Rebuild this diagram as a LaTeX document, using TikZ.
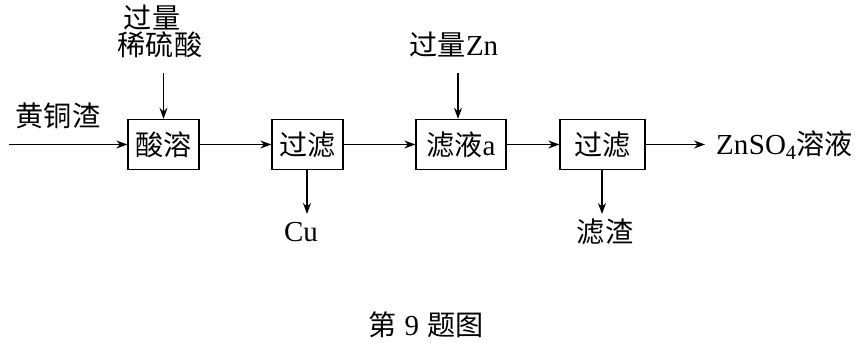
\documentclass[tikz,border=0pt]{standalone}
\usepackage{fontspec}
\setmainfont{Liberation Serif}
\newfontfamily\cjk{Noto Sans CJK SC}[Scale=0.97]
\usetikzlibrary{arrows.meta}
\begin{document}
\begin{tikzpicture}[x=1pt,y=-1pt,
  every node/.style={font=\fontsize{29}{31}\selectfont},
  procbox/.style={draw,line width=1.3pt,minimum height=50pt,inner sep=0pt},
  lbl/.style={inner sep=0pt},
  flow/.style={line width=1.3pt,-{Stealth[length=11pt,width=8pt]}}]
\useasboundingbox (0,0) rectangle (855,343);
\node[procbox,minimum width=71pt] (b1) at (163.5,144.5) {\cjk 酸溶};
\node[procbox,minimum width=71pt] (b2) at (307.5,144.5) {\cjk 过滤};
\node[procbox,minimum width=90pt] (b3) at (461,144.5) {\cjk 滤液\rmfamily a};
\node[procbox,minimum width=85pt] (b4) at (602.5,144.5) {\cjk 过滤};
\coordinate (in) at (9,144.5);
\node[lbl] (l1) at (58,116) {\cjk 黄铜渣};
\node[lbl] (l2a) at (152,18) {\cjk 过量};
\node[lbl] (l2b) at (160,45) {\cjk 稀硫酸};
\coordinate (s1) at (163.5,73);
\node[lbl] (lzn) at (454,45) {\cjk 过量\rmfamily Zn};
\coordinate (s3) at (458,73);
\node[lbl,anchor=west] (out) at (716,145) {Zn\kern0.5pt SO\textsubscript{4}\cjk 溶液};
\coordinate (d2) at (307,214);
\node[lbl] (cu) at (301,232) {Cu};
\coordinate (d4) at (602,214);
\node[lbl] (zz) at (605,232) {\cjk 滤渣};
\node[lbl] (cap) at (426,325) {\cjk 第\hspace{8pt}\rmfamily 9\hspace{8pt}\cjk 题图};
\draw[flow] (in) -- (b1.west);
\draw[flow] (b1) -- (b2);
\draw[flow] (b2) -- (b3);
\draw[flow] (b3) -- (b4);
\draw[flow] (b4.east) -- (705,144.5) coordinate (oe);
\draw[flow] (s1) -- (b1.north);
\draw[flow] (s3) -- (s3 |- b3.north);
\draw[flow] (b2.south -| d2) -- (d2);
\draw[flow] (b4.south -| d4) -- (d4);
\end{tikzpicture}
\end{document}
